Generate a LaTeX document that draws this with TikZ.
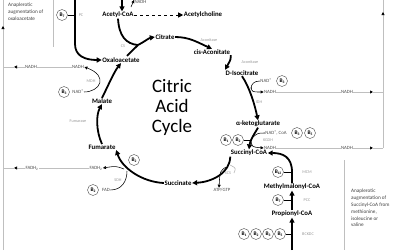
\documentclass[tikz,border=0pt]{standalone}
\usepackage{fontspec}
\setmainfont{Carlito}
\usetikzlibrary{arrows.meta}
\newcommand{\vitB}[1]{B\kern-0.2pt\raisebox{-0.6pt}{\fontsize{3.6}{3.6}\selectfont #1}}
\begin{document}
\begin{tikzpicture}[x=1pt,y=-1pt,
 met/.style={font=\fontsize{6.8}{8}\selectfont\bfseries, inner sep=0.5pt},
 enz/.style={font=\fontsize{4.2}{5}\selectfont, text=black!40, inner sep=0.3pt},
 cof/.style={font=\fontsize{4.8}{5}\selectfont, text=black!70, inner sep=0.3pt},
 vit/.style={circle, draw=black!70, line width=0.4pt, inner sep=0pt, minimum size=11pt, font=\fontsize{5.4}{5.4}\selectfont\bfseries, fill=white},
 flow/.style={line width=1.8pt, -{Triangle[length=5pt,width=5pt]}},
 flowline/.style={line width=1.8pt},
 aux/.style={line width=0.55pt, -{Triangle[length=3pt,width=3pt]}},
 auxline/.style={line width=0.55pt},
 ext/.style={draw=black!25, line width=0.6pt},
 exttip/.style={draw=black!25, line width=0.6pt, -{Triangle[length=3pt,width=3pt,color=black]}},
 note/.style={font=\fontsize{5.2}{6.8}\selectfont, text=black!75, align=left, inner sep=0pt},
 big/.style={font=\fontsize{19}{20}\selectfont, align=center}
]
\useasboundingbox[fill=white] (0,0) rectangle (400,250);

% metabolites
\node[met] (acoa) at (118,15) {Acetyl-CoA};
\node[met] (ach) at (203,15) {Acetylcholine};
\node[met] (cit) at (165,37) {Citrate};
\node[met] (cis) at (212,52) {cis-Aconitate};
\node[met] (iso) at (242,73) {D-Isocitrate};
\node[met] (akg) at (258,124) {α-ketoglutarate};
\node[met] (scoa) at (249,153) {Succinyl-CoA};
\node[met] (succ) at (178,183) {Succinate};
\node[met] (fum) at (102,147) {Fumarate};
\node[met] (mal) at (102,101) {Malate};
\node[met] (oaa) at (121,60) {Oxaloacetate};
\node[met] (mmcoa) at (292,187) {Methylmalonyl-CoA};
\node[met] (pcoa) at (292,214) {Propionyl-CoA};

\node[big] (title) at (172,107) {Citric\\Acid\\Cycle};

% notes
\node[note, anchor=north west] (noteL) at (8,3) {Anaplerotic\\augmentation of\\oxaloacetate};
\node[note, anchor=north west] (noteR) at (351,189) {Anaplerotic\\augmentation of\\Succinyl-CoA from\\methionine,\\isoleucine or\\valine};
\draw[ext] (53,0) -- (53,47);
\draw[ext] (344,160) -- (344,250);

% top
\coordinate (topin) at (122,0);
\draw[flow] (topin) -- (acoa.north -| topin);
\node[cof, anchor=west] (nadhT) at (134,1.5) {NADH};
\coordinate (topb) at (131,7);
\draw[aux] (topb) -- (nadhT.west |- 0,0);
\draw[flow, dashed, line width=0.9pt] (acoa) -- (ach);

% pyruvate carboxylase
\coordinate (pcTop) at (75,0);
\draw[flow] (pcTop) -- (75,44) .. controls (75,56) and (85,60) .. (oaa.west);
\node[vit] (b7a) at (62,15) {\vitB{7}};
\draw[auxline] (b7a) -- (b7a -| pcTop);
\node[enz] (pc) at (81,15) {PC};

% citrate synthase
\coordinate (csj) at (138,45);
\draw[flowline] (acoa.south) .. controls (119,36) and (126,44) .. (csj);
\draw[flowline] (oaa.north) ++(6,-1) -- (csj);
\draw[flow] (csj) .. controls (144,42) and (149,38) .. (cit.west);
\node[enz] (cs) at (123,46) {CS};

% aconitase
\draw[flow] (cit.east) .. controls (189,37) and (197,42) .. (cis.north);
\node[enz] (acn1) at (209,40) {Aconitase};
\draw[flow] (cis.south east) .. controls (231,59) .. (iso.north west);
\node[enz] (acn2) at (250,62) {Aconitase};

% IDH
\draw[flow] (iso.south) .. controls (250,88) and (255,106) .. (akg.north);
\node[cof] (nadp1) at (266,81) {NAD\textsuperscript{+}};
\node[vit] (b3a) at (282,81) {\vitB{3}};
\node[cof] (nadh1) at (270,92) {NADH};
\draw[auxline] (nadp1.west) .. controls (254,81) and (251,84) .. (251,89);
\draw[aux] (251,87) .. controls (252,92) .. (nadh1.west);
\node[enz] (idh) at (259,102) {IDH};

% KGDH
\draw[flow] (akg.south) .. controls (253,136) and (250,141) .. (scoa.north);
\node[cof] (nadp2) at (276,133) {NAD\textsuperscript{+}, CoA};
\node[vit] (b3b) at (297,133) {\vitB{3}};
\node[vit] (b5a) at (310,133) {\vitB{5}};
\draw[auxline] (nadp2.west) .. controls (258,133) .. (253,137);
\node[enz] (kgdh) at (268,140.5) {KGDH};
\node[cof] (nadh2) at (270,148) {NADH};
\draw[aux] (251,141) .. controls (252,147) .. (nadh2.west);
\node[vit] (b1a) at (226,140) {\vitB{1}};
\node[vit] (b2a) at (238,140) {\vitB{2}};
\draw[auxline] (b2a) -- (251,140);

% SCS
\draw[flow] (scoa.south west) .. controls (230,173) and (212,182) .. (succ.east);
\node[enz] (scs) at (228,173) {SCS};
\node[cof] (atp) at (222,190) {ATP/GTP};
\draw[aux] (226,167) .. controls (220,171) .. (atp.north -| 219,0);
\draw[auxline, black!30] (230,165) .. controls (236,168) .. (234,173);

% SDH
\draw[flow] (succ.west) .. controls (142,182) and (122,168) .. (fum.south east);
\node[vit] (b2c) at (134,160) {\vitB{2}};
\node[enz] (sdh) at (118,180) {SDH};
\node[vit] (b2b) at (93,190) {\vitB{2}};
\node[cof] (fad) at (106,190) {FAD};
\draw[auxline] (fad.east) .. controls (122,190) and (127,181) .. (127,171);
\node[cof] (fadh2) at (96,168) {FADH\textsubscript{2}};
\draw[aux] (124,169) .. controls (116,166) .. (fadh2.east);

% fumarase
\draw[flow] (fum.north) .. controls (96,131) and (96,115) .. (mal.south);
\node[enz] (fumase) at (78,121) {Fumarase};

% MDH
\draw[flow] (mal.north) .. controls (108,86) and (114,72) .. (oaa.south);
\node[enz] (mdh) at (91,81) {MDH};
\node[cof] (nadp3) at (78,92) {NAD\textsuperscript{+}};
\node[vit] (b3c) at (64,92) {\vitB{3}};
\node[cof] (nadh3) at (78,67) {NADH};
\draw[aux] (nadp3.east) .. controls (100,92) and (109,76) .. (nadh3.east);

% propionate pathway
\coordinate (botin) at (292,250);
\draw[flow] (botin) -- (pcoa.south);
\draw[flow] (pcoa.north) -- (mmcoa.south);
\draw[flow] (mmcoa.north) -- (292,172) .. controls (292,157) and (283,153) .. (scoa.east);
\node[vit] (b12) at (278,172) {\vitB{12}};
\draw[auxline] (b12) -- (292,172);
\node[enz] (mcm) at (307,172) {MCM};
\node[vit] (b7b) at (278,200) {\vitB{7}};
\draw[auxline] (b7b) -- (292,200);
\node[enz] (pcc) at (307,200) {PCC};
\node[vit] (bb1) at (244,234) {\vitB{1}};
\node[vit] (bb2) at (256,234) {\vitB{2}};
\node[vit] (bb3) at (268,234) {\vitB{3}};
\node[vit] (bb5) at (280,234) {\vitB{5}};
\draw[auxline] (bb5) -- (292,234);
\node[enz] (bckdc) at (308,234) {BCKDC};

% electron carriers to the right
\node[cof, fill=white] (nadhR1) at (347,92) {NADH};
\node[cof, fill=white] (nadhR2) at (347,148) {NADH};
\draw[ext] (nadh1.east) -- (nadhR1.west);
\draw[ext] (nadh2.east) -- (nadhR2.west);
\draw[exttip] (nadhR1.east) -- (373,92);
\draw[exttip] (nadhR2.east) -- (373,148);
\draw[ext] (372,92) -- (383,92);
\draw[ext] (372,148) -- (383,148);
\draw[ext] (383,148) -- (383,0);
\draw[exttip] (383,20) -- (383,12);

% electron carriers to the left
\node[cof, fill=white] (nadhL) at (31,67) {NADH};
\node[cof, fill=white] (fadh2L) at (32,168) {FADH\textsubscript{2}};
\draw[ext] (nadh3.west) -- (nadhL.east);
\draw[ext] (fadh2.west) -- (fadh2L.east);
\draw[exttip] (nadhL.west) -- (14,67);
\draw[exttip] (fadh2L.west) -- (14,168);
\draw[ext] (15,67) -- (3,67);
\draw[ext] (15,168) -- (3,168);
\draw[ext] (3,250) -- (3,0);
\draw[exttip] (3,34) -- (3,26);
\end{tikzpicture}
\end{document}
